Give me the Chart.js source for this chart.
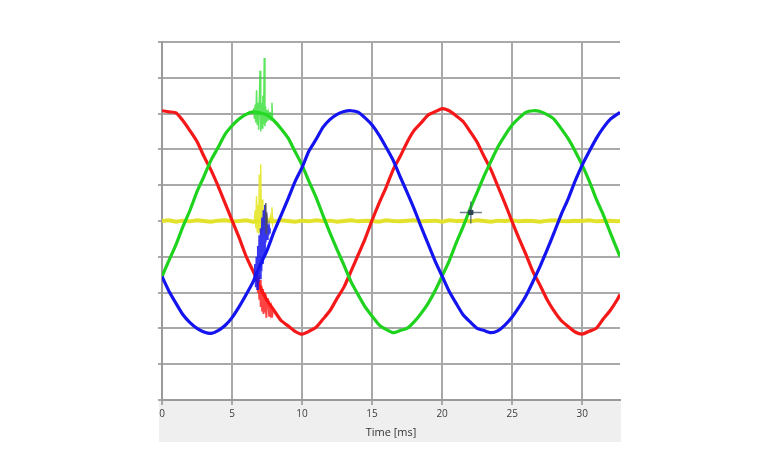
<!DOCTYPE html>
<html>
<head>
<meta charset="utf-8">
<script src="https://cdn.jsdelivr.net/npm/chart.js@4.4.1/dist/chart.umd.min.js"></script>
<style>
  html, body { margin: 0; padding: 0; background: #ffffff; }
  #c { display: block; }
</style>
</head>
<body>
<canvas id="c" width="765" height="471"></canvas>
<script>
// Time axis (ms), main samples
const timeMs = [0,0.5,1,1.5,2,2.5,3,3.5,4,4.5,5,5.5,6,6.5,7,7.5,8,8.5,9,9.5,10,10.5,11,11.5,12,12.5,13,13.5,14,14.5,15,15.5,16,16.5,17,17.5,18,18.5,19,19.5,20,20.5,21,21.5,22,22.5,23,23.5,24,24.5,25,25.5,26,26.5,27,27.5,28,28.5,29,29.5,30,30.5,31,31.5,32,32.5,32.7];

const redPhase = [3.08,3.05,3.02,2.80,2.52,2.22,1.80,1.42,0.98,0.50,0.02,-0.46,-0.98,-1.40,-1.84,-2.22,-2.50,-2.78,-2.93,-3.08,-3.16,-3.08,-2.97,-2.74,-2.50,-2.16,-1.84,-1.40,-0.95,-0.50,0.02,0.50,0.94,1.43,1.80,2.20,2.53,2.74,2.96,3.05,3.14,3.08,2.94,2.78,2.50,2.20,1.80,1.42,0.95,0.48,-0.02,-0.50,-0.95,-1.43,-1.80,-2.20,-2.52,-2.78,-2.95,-3.10,-3.16,-3.08,-3.00,-2.74,-2.50,-2.20,-2.05];

const greenPhase = [-1.55,-1.10,-0.66,-0.15,0.30,0.82,1.25,1.70,2.05,2.42,2.66,2.85,2.98,3.05,3.02,2.96,2.80,2.58,2.32,1.94,1.56,1.10,0.66,0.15,-0.34,-0.80,-1.24,-1.70,-2.06,-2.40,-2.66,-2.90,-3.03,-3.12,-3.06,-3.00,-2.82,-2.58,-2.30,-1.95,-1.54,-1.12,-0.62,-0.16,0.34,0.80,1.26,1.68,2.08,2.40,2.68,2.88,3.04,3.08,3.06,2.97,2.84,2.58,2.30,1.95,1.56,1.12,0.62,0.18,-0.32,-0.80,-0.99];

const bluePhase = [-1.55,-1.96,-2.30,-2.62,-2.84,-3.00,-3.10,-3.14,-3.06,-2.92,-2.70,-2.40,-2.06,-1.70,-1.24,-0.82,-0.30,0.16,0.62,1.10,1.50,1.96,2.28,2.62,2.84,2.98,3.06,3.08,3.04,2.88,2.68,2.40,2.06,1.70,1.24,0.80,0.34,-0.16,-0.64,-1.12,-1.54,-1.96,-2.30,-2.62,-2.82,-3.00,-3.06,-3.12,-3.06,-2.90,-2.68,-2.40,-2.08,-1.68,-1.26,-0.80,-0.32,0.18,0.62,1.12,1.56,1.94,2.30,2.60,2.84,2.98,3.04];

const yellowSignal = [0.00,0.02,-0.02,0.01,-0.01,0.02,0.00,-0.02,0.01,0.02,-0.01,0.00,0.02,-0.02,0.00,0.01,-0.01,0.02,0.00,-0.02,0.01,-0.01,0.02,0.00,0.01,-0.02,0.00,0.02,-0.01,0.01,0.00,-0.02,0.02,0.00,-0.01,0.01,0.02,-0.01,0.00,0.01,-0.02,0.02,0.00,0.01,-0.01,0.02,0.00,-0.02,0.01,0.00,0.02,-0.01,0.01,0.00,-0.02,0.01,0.02,0.00,-0.01,0.01,0.00,0.02,-0.01,0.00,0.01,-0.01,0.00];

// Disturbance burst around 7 ms (fine samples)
const burstGreenT = [6.50,6.55,6.60,6.65,6.70,6.75,6.80,6.85,6.90,6.95,7.00,7.05,7.10,7.15,7.20,7.25,7.30,7.35,7.40,7.45,7.50,7.55,7.60,7.65,7.70,7.75,7.80,7.85,7.90];
const burstGreenV = [3.00,3.15,2.85,3.25,2.75,3.65,2.70,3.30,2.55,3.40,4.20,2.50,3.30,2.60,3.50,2.70,4.55,2.65,3.20,2.75,3.10,2.80,3.00,2.85,3.05,2.80,3.00,3.30,2.80];

const burstYellowT = [6.60,6.65,6.70,6.75,6.80,6.85,6.90,6.95,7.00,7.05,7.10,7.15,7.20,7.25,7.30,7.35,7.40,7.45,7.50,7.55,7.60,7.65,7.70,7.75,7.80,7.85,7.90,7.95,8.00];
const burstYellowV = [0.00,0.30,-0.20,0.70,-0.30,0.45,-0.35,1.30,-0.30,1.58,-0.40,0.60,-0.25,0.35,-0.10,0.20,-0.35,0.15,-0.05,0.05,0.00,0.05,-0.05,0.10,-0.05,0.38,-0.05,0.05,0.00];

const burstGrayT = [7.38,7.41,7.44,7.47,7.50];
const burstGrayV = [0.00,0.50,-0.35,0.25,-0.05];

const burstBlueT = [6.60,6.65,6.70,6.75,6.80,6.85,6.90,6.95,7.00,7.05,7.10,7.15,7.20,7.25,7.30,7.35,7.40,7.45,7.50,7.55,7.60,7.65,7.70];
const burstBlueV = [-1.60,-1.20,-1.85,-1.00,-1.90,-0.70,-1.70,-0.40,-1.60,-0.20,-1.40,0.10,-1.20,0.30,-0.90,0.45,-0.60,0.20,-0.50,-0.10,-0.40,-0.20,-0.35];

const burstRedT = [6.80,6.85,6.90,6.95,7.00,7.05,7.10,7.15,7.20,7.25,7.30,7.35,7.40,7.45,7.50,7.55,7.60,7.65,7.70,7.75,7.80,7.85,7.90];
const burstRedV = [-1.60,-2.00,-1.50,-2.20,-1.65,-2.40,-1.80,-2.50,-1.90,-2.60,-2.00,-2.55,-2.05,-2.70,-2.15,-2.45,-2.20,-2.65,-2.30,-2.55,-2.45,-2.70,-2.55];

// Cursor marker
const cursorT = [22.05];
const cursorV = [0.24];

const xTickLabels = ['0','5','10','15','20','25','30'];
const xTitle = 'Time [ms]';

function pts(xs, ys) { return xs.map((x, i) => ({ x: x, y: ys[i] })); }

const bgPlugin = {
  id: 'axisBg',
  beforeDraw(chart) {
    const ctx = chart.ctx;
    const a = chart.chartArea;
    ctx.save();
    ctx.fillStyle = '#efefef';
    ctx.fillRect(a.left - 3, a.bottom, a.right - a.left + 4, 42);
    ctx.restore();
  }
};

new Chart(document.getElementById('c'), {
  type: 'line',
  data: {
    datasets: [
      { data: pts(cursorT, cursorV), showLine: false, pointStyle: 'rect', pointRadius: 3, backgroundColor: '#2b4653', borderColor: '#2b4653', borderWidth: 1, order: 0 },
      { data: pts(cursorT, cursorV), showLine: false, pointStyle: 'cross', pointRadius: 11, borderColor: 'rgba(60,85,100,0.75)', borderWidth: 1.5, order: 1 },
      { data: pts(burstGrayT, burstGrayV), borderColor: 'rgba(80,80,80,0.85)', borderWidth: 1.5, pointRadius: 0, order: 2 },
      { data: pts(burstBlueT, burstBlueV), borderColor: 'rgba(20,20,240,0.85)', borderWidth: 2, pointRadius: 0, order: 3 },
      { data: pts(burstRedT, burstRedV), borderColor: 'rgba(255,20,20,0.8)', borderWidth: 2, pointRadius: 0, order: 4 },
      { data: pts(burstGreenT, burstGreenV), borderColor: 'rgba(40,220,40,0.75)', borderWidth: 1.5, pointRadius: 0, order: 5 },
      { data: pts(burstYellowT, burstYellowV), borderColor: 'rgba(230,230,40,0.9)', borderWidth: 1.5, pointRadius: 0, order: 6 },
      { data: pts(timeMs, bluePhase), borderColor: '#1414f0', borderWidth: 3.2, pointRadius: 0, tension: 0.2, order: 7 },
      { data: pts(timeMs, greenPhase), borderColor: '#1ed21e', borderWidth: 3.2, pointRadius: 0, tension: 0.2, order: 8 },
      { data: pts(timeMs, redPhase), borderColor: '#f51818', borderWidth: 3.2, pointRadius: 0, tension: 0.2, order: 9 },
      { data: pts(timeMs, yellowSignal), borderColor: '#e2e22c', borderWidth: 4, pointRadius: 0, tension: 0, order: 10 }
    ]
  },
  options: {
    responsive: false,
    animation: false,
    devicePixelRatio: 1,
    layout: { padding: { left: 0, top: 42, right: 145, bottom: 32 } },
    plugins: { legend: { display: false }, tooltip: { enabled: false } },
    elements: { line: { fill: false } },
    scales: {
      x: {
        type: 'linear',
        min: 0,
        max: 32.7,
        afterFit(scale) { scale.height = 39; },
        afterBuildTicks(scale) { scale.ticks = xTickLabels.map(v => ({ value: Number(v) })); },
        ticks: {
          includeBounds: false,
          stepSize: 5,
          padding: 3,
          color: '#3c3c3c',
          font: { family: 'Open Sans', size: 10 },
          maxRotation: 0,
          callback: (v) => String(v)
        },
        grid: { color: '#a9a9a9', lineWidth: 2, tickLength: 5 },
        border: { color: '#9a9a9a', width: 2 },
        title: { display: true, text: xTitle, color: '#333333', font: { family: 'Open Sans', size: 11 }, padding: { top: 0, bottom: 0 } }
      },
      y: {
        type: 'linear',
        min: -5,
        max: 5,
        afterFit(scale) { scale.width = 162; },
        ticks: { stepSize: 1, display: false },
        grid: { color: '#a9a9a9', lineWidth: 2, tickLength: 4 },
        border: { color: '#9a9a9a', width: 2 }
      }
    }
  },
  plugins: [bgPlugin]
});
</script>
</body>
</html>
